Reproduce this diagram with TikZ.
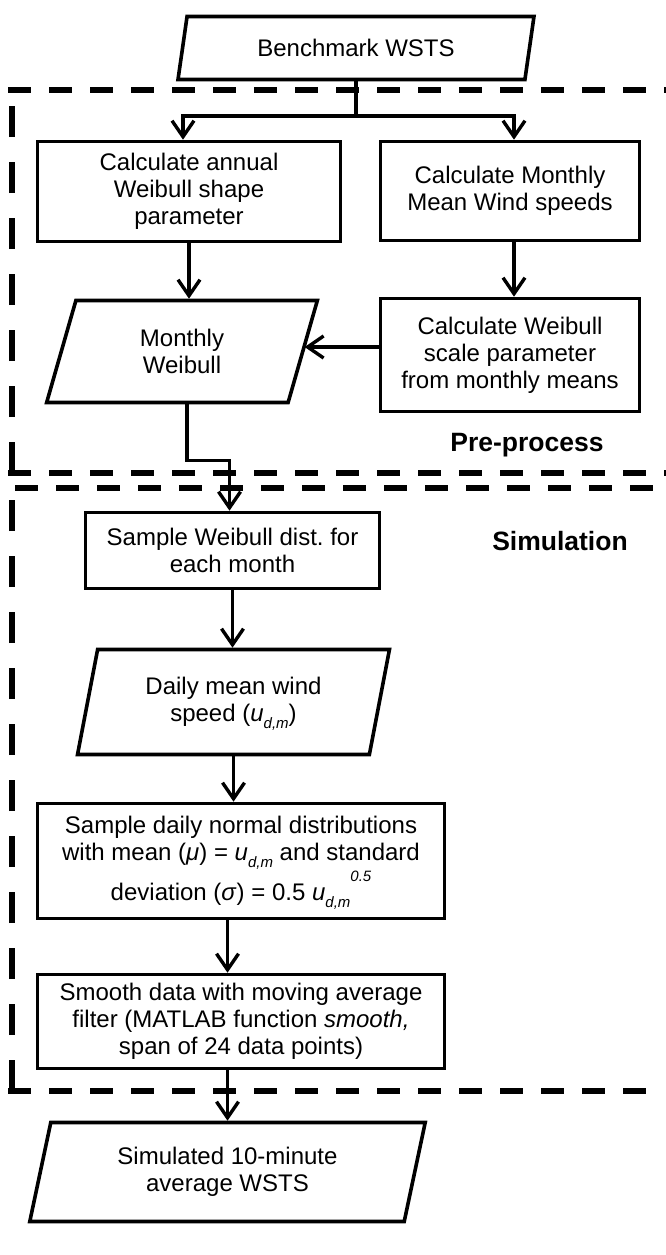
\documentclass[tikz,border=0pt]{standalone}
\usepackage{fontspec}
\setmainfont{Liberation Sans}
\usetikzlibrary{shapes.geometric,arrows.meta,calc}

% italic u with subscript d,m (kept out of the line height)
\newcommand{\udm}{\textit{u}\smash{\raisebox{-7pt}{\fontsize{15}{15}\selectfont\itshape d,m}}}
% raised exponent, also kept out of the line height
\newcommand{\hipow}[1]{\smash{\raisebox{19pt}{\fontsize{15}{15}\selectfont\itshape #1}}}

\begin{document}
\begin{tikzpicture}[x=1pt,y=-1pt,
  txt/.style={font=\fontsize{24}{27}\selectfont, align=center},
  procbox/.style={txt, draw, rectangle, line width=3.6pt, inner sep=2pt},
  iobox/.style={txt, draw, trapezium, trapezium left angle=76,
    trapezium right angle=104, trapezium stretches=true,
    line width=3.6pt, inner sep=2pt},
  link/.style={line width=3.4pt},
  arr/.style={link, -{Straight Barb[length=16pt,width=22pt]}},
  hdash/.style={line width=6pt, dash pattern=on 23pt off 18pt},
  vdash/.style={line width=6pt, dash pattern=on 31pt off 25pt},
  tag/.style={font=\fontsize{26.5}{28}\selectfont\bfseries}]

\useasboundingbox (0,0) rectangle (666,1255);

% group frames
\draw[hdash] (8,90) -- (666,90);
\draw[vdash] (11.5,473) -- (11.5,96);
\draw[hdash] (8,473) -- (666,473);
\draw[hdash] (15,488) -- (666,488);
\draw[vdash] (11.5,1091) -- (11.5,497);
\draw[hdash] (8,1091) -- (652,1091);

% process steps
\node[iobox, minimum width=357, minimum height=63] (bench) at (356,48) {Benchmark WSTS};
\node[procbox, minimum width=303, minimum height=100] (annual) at (189,191.5)
  {Calculate annual\\Weibull shape\\parameter};
\node[procbox, minimum width=259, minimum height=99] (monthlymean) at (510,191)
  {Calculate Monthly\\Mean Wind speeds};
\node[iobox, minimum width=271, minimum height=102] (mweibull) at (182,351.5)
  {Monthly\\Weibull};
\node[procbox, minimum width=259, minimum height=113] (scale) at (510,355)
  {Calculate Weibull\\scale parameter\\from monthly means};
\node[procbox, minimum width=294, minimum height=76] (sample) at (232.5,550.5)
  {Sample Weibull dist.\ for\\each month};
\node[iobox, minimum width=312, minimum height=105] (daily) at (233.5,702)
  {Daily mean wind\\speed (\udm)};
\node[procbox, minimum width=407, minimum height=115] (normal) at (241,861)
  {Sample daily normal distributions\\with mean (\textit{μ}) = \udm{} and standard\\[13pt]
   deviation (\textit{σ}) = 0.5 \udm\hipow{0.5}};
\node[procbox, minimum width=407, minimum height=94] (smooth) at (241,1021.5)
  {Smooth data with moving average\\filter (MATLAB function \textit{smooth,}\\span of 24 data points)};
\node[iobox, minimum width=396, minimum height=99] (sim) at (227.5,1172)
  {Simulated 10-minute\\average WSTS};

% group labels
\node[tag] (pretag) at (527,445) {Pre-process};
\node[tag] (simtag) at (560,541) {Simulation};

% connectors
\coordinate (split) at (358,116);
\draw[link] (bench.south) -- (bench.south |- split);
\draw[arr] (split) -| ([xshift=-6pt]annual.north);
\draw[arr] (split) -| ([xshift=4pt]monthlymean.north);
\draw[arr] (annual.south) -- (annual.south |- mweibull.north);
\draw[arr] ([xshift=4pt]monthlymean.south) -- ([xshift=4pt]scale.north);
\draw[arr] ([yshift=8pt]scale.west) -- ([yshift=8pt]scale.west -| mweibull.east);
\draw[arr] ([xshift=5pt]mweibull.south) -- ++(0,56) -| ([xshift=-3pt]sample.north);
\draw[arr] (sample.south) -- (sample.south |- daily.north);
\draw[arr] (daily.south) -- (daily.south |- normal.north);
\draw[arr] (normal.south -| sim.north) -- (smooth.north -| sim.north);
\draw[arr] (smooth.south -| sim.north) -- (sim.north);
\end{tikzpicture}
\end{document}
